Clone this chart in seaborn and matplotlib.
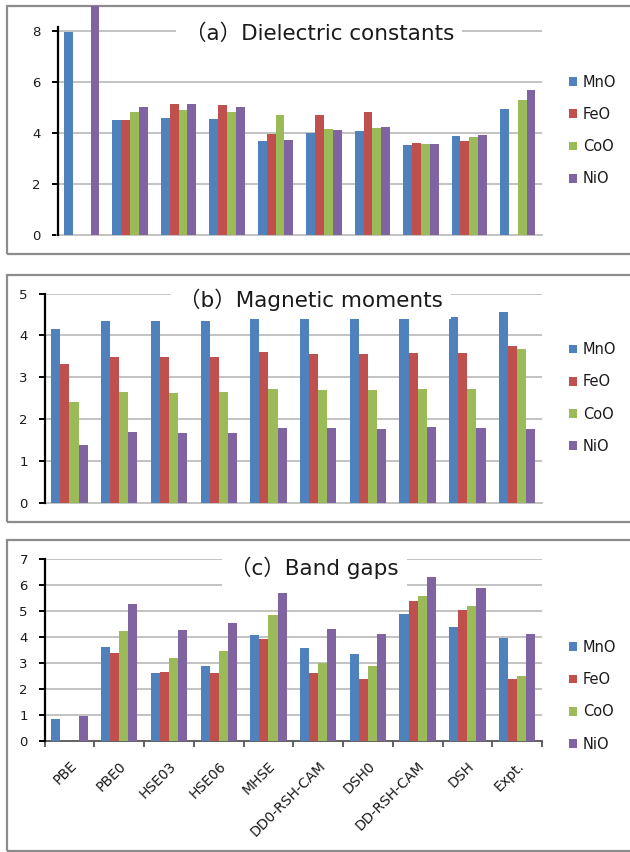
import numpy as np
import pandas as pd
import matplotlib
matplotlib.use("Agg")
import matplotlib.pyplot as plt
from matplotlib.patches import Rectangle
from matplotlib.transforms import ScaledTranslation
import seaborn as sns

nan = np.nan

methods = ["PBE", "PBE0", "HSE03", "HSE06", "MHSE", "DD0-RSH-CAM",
           "DSH0", "DD-RSH-CAM", "DSH", "Expt."]
oxides = ["MnO", "FeO", "CoO", "NiO"]
colors = ["#4F81BD", "#C0504D", "#9BBB59", "#8064A2"]

# (a) dielectric constants; PBE NiO runs off the top of the axis
eps_MnO = [7.96, 4.50, 4.58, 4.54, 3.69, 4.02, 4.10, 3.52, 3.89, 4.95]
eps_FeO = [nan, 4.50, 5.16, 5.09, 3.95, 4.71, 4.82, 3.60, 3.69, nan]
eps_CoO = [nan, 4.82, 4.90, 4.82, 4.70, 4.16, 4.22, 3.56, 3.85, 5.30]
eps_NiO = [9.00, 5.01, 5.13, 5.04, 3.73, 4.11, 4.26, 3.56, 3.91, 5.70]

# (b) magnetic moments
mag_MnO = [4.15, 4.35, 4.35, 4.35, 4.47, 4.45, 4.44, 4.47, 4.45, 4.57]
mag_FeO = [3.31, 3.49, 3.48, 3.49, 3.60, 3.56, 3.55, 3.58, 3.57, 3.75]
mag_CoO = [2.40, 2.64, 2.62, 2.64, 2.73, 2.70, 2.70, 2.73, 2.73, 3.67]
mag_NiO = [1.37, 1.68, 1.67, 1.67, 1.79, 1.79, 1.77, 1.81, 1.79, 1.76]

# (c) band gaps
gap_MnO = [0.82, 3.63, 2.62, 2.90, 4.07, 3.59, 3.35, 4.89, 4.40, 3.98]
gap_FeO = [nan, 3.40, 2.65, 2.62, 3.93, 2.60, 2.37, 5.38, 5.03, 2.37]
gap_CoO = [nan, 4.22, 3.19, 3.46, 4.86, 2.99, 2.88, 5.59, 5.20, 2.48]
gap_NiO = [0.94, 5.26, 4.26, 4.53, 5.70, 4.31, 4.13, 6.32, 5.89, 4.12]

titles = ["\uff08a\uff09Dielectric constants",
          "\uff08b\uff09Magnetic moments",
          "\uff08c\uff09Band gaps"]


def long_table(series):
    rows = []
    for ox, vals in zip(oxides, series):
        for m, v in zip(methods, vals):
            if not np.isnan(v):
                rows.append({"method": m, "oxide": ox, "value": v})
    return pd.DataFrame(rows)


sns.set_style("white")
plt.rcParams["font.family"] = ["DejaVu Sans", "Noto Sans CJK SC"]

W, H = 630, 852
fig = plt.figure(figsize=(W / 100, H / 100), dpi=100)


def fx(px):
    return px / W


def fy(py):
    return 1 - py / H


GRID = "#BEBEBE"
FRAME = "#8C8C8C"
TEXT = "#1a1a1a"

# outer panel frames (top and bottom edges in pixels)
for top, bottom in [(6, 254), (275, 522), (540, 851)]:
    fig.add_artist(Rectangle((fx(7), fy(bottom)), 1.2, (bottom - top) / H,
                             transform=fig.transFigure, fill=False,
                             edgecolor=FRAME, linewidth=1.6, zorder=0))

panels = [
    dict(series=[eps_MnO, eps_FeO, eps_CoO, eps_NiO], left=57.5, y0=235, ytop=26.7,
         ylim=8.18, ticks=[0, 2, 4, 6, 8], title_xy=(454, 40), legend_y=130.5,
         xlabels=False),
    dict(series=[mag_MnO, mag_FeO, mag_CoO, mag_NiO], left=44.6, y0=502.7, ytop=293.7,
         ylim=5, ticks=[0, 1, 2, 3, 4, 5], title_xy=(443, 307), legend_y=398,
         xlabels=False),
    dict(series=[gap_MnO, gap_FeO, gap_CoO, gap_NiO], left=44.6, y0=740.7, ytop=559.3,
         ylim=7, ticks=list(range(8)), title_xy=(399, 575), legend_y=695.7,
         xlabels=True),
]

for p, title in zip(panels, titles):
    ax = fig.add_axes([fx(p["left"]), fy(p["y0"]), (542 - p["left"]) / W,
                       (p["y0"] - p["ytop"]) / H])
    df = long_table(p["series"])
    sns.barplot(data=df, x="method", y="value", hue="oxide", order=methods,
                hue_order=oxides, palette=colors, width=0.73, errorbar=None,
                linewidth=0, saturation=1, ax=ax, zorder=3)
    for bar in ax.patches:
        bar.set_clip_on(False)
    ax.set_xlim(-0.5, len(methods) - 0.5)
    ax.set_ylim(0, p["ylim"])
    ax.set_yticks(p["ticks"])
    ax.set_xlabel("")
    ax.set_ylabel("")
    for t in p["ticks"][1:]:
        ax.axhline(t, color=GRID, linewidth=1.3, zorder=1)
    for side in ["top", "right"]:
        ax.spines[side].set_visible(False)
    ax.spines["left"].set_color("black")
    ax.spines["left"].set_linewidth(1.6)
    ax.spines["left"].set_zorder(4)
    ax.tick_params(axis="y", direction="out", length=4, width=1.4, color="black",
                   labelsize=9.5, labelcolor=TEXT, pad=8, left=True)
    if p["xlabels"]:
        ax.spines["bottom"].set_color("#555555")
        ax.spines["bottom"].set_linewidth(1.3)
        ax.set_xticks(np.arange(len(methods)))
        ax.set_xticklabels(methods, rotation=45, ha="right", rotation_mode="anchor",
                           fontsize=10, color=TEXT)
        shift = ScaledTranslation(3 / 100, 0, fig.dpi_scale_trans)
        for lab in ax.get_xticklabels():
            lab.set_transform(lab.get_transform() + shift)
        ax.set_xticks(np.arange(len(methods) + 1) - 0.5, minor=True)
        ax.tick_params(axis="x", which="major", length=0, pad=13)
        ax.tick_params(axis="x", which="minor", direction="out", length=4, width=1.3,
                       color="#555555", bottom=True)
    else:
        ax.spines["bottom"].set_color(GRID)
        ax.spines["bottom"].set_linewidth(1.3)
        ax.set_xticks([])
    handles, labels = ax.get_legend_handles_labels()
    leg = ax.legend(handles, labels, loc="center left",
                    bbox_to_anchor=(fx(569), fy(p["legend_y"])),
                    bbox_transform=fig.transFigure, frameon=False, fontsize=10.5,
                    handlelength=0.55, handleheight=0.55, handletextpad=0.4,
                    labelspacing=1.18, borderpad=0, borderaxespad=0)
    for txt in leg.get_texts():
        txt.set_color(TEXT)
    fig.text(fx(p["title_xy"][0]), fy(p["title_xy"][1]), title, ha="right",
             va="baseline", fontsize=15.5, color=TEXT, zorder=5,
             bbox=dict(facecolor="white", edgecolor="none", pad=6))

fig.savefig("out.png", dpi=100)
